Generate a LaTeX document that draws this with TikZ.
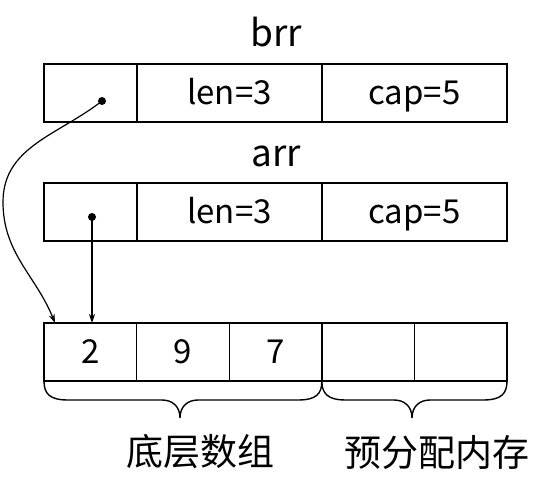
\documentclass[tikz,border=0pt]{standalone}
\usepackage{fontspec}
\setmainfont{Noto Sans CJK SC}
\usetikzlibrary{arrows.meta}
\begin{document}
\begin{tikzpicture}[x=1pt,y=1pt,
  line width=1.4pt,
  cell/.style={draw, inner sep=0pt, outer sep=0pt, minimum height=58pt,
     font=\fontsize{33}{36}\selectfont, text height=24pt, text depth=0pt},
  small/.style={cell, minimum width=93pt},
  wide/.style={cell, minimum width=185pt},
  slot/.style={cell, minimum width=92.6pt},
  title/.style={font=\fontsize{37}{40}\selectfont, anchor=base},
  lab/.style={font=\fontsize{37}{40}\selectfont},
  dotmark/.style={fill, circle, inner sep=0pt, minimum size=8pt},
  ptr/.style={-{Stealth[length=9pt,width=6pt]}, line width=1.2pt},
  bracepath/.style={line width=1.4pt}
]
\useasboundingbox (0,0) rectangle (553,500);

% brr
\node[title] (tb) at (276,453) {brr};
\node[small] (b1) at (90.5,407) {};
\node[wide]  (b2) at (229.5,407) {len=3};
\node[wide]  (b3) at (414.5,407) {cap=5};

% arr
\node[title] (ta) at (276,333) {arr};
\node[small] (a1) at (90.5,288) {};
\node[wide]  (a2) at (229.5,288) {len=3};
\node[wide]  (a3) at (414.5,288) {cap=5};

% underlying array
\node[slot] (s1) at (90.3,148) {2};
\node[slot] (s2) at (182.9,148) {9};
\node[slot] (s3) at (275.5,148) {7};
\node[slot] (s4) at (368.1,148) {};
\node[slot] (s5) at (460.7,148) {};

% pointers
\node[dotmark] (pb) at (102,399) {};
\node[dotmark] (pa) at (92,283) {};
\coordinate (lft) at (3,298);
\coordinate (eb) at (55,177);
\draw[ptr] (pb.center) to[out=218,in=90] (lft) to[out=-90,in=112] (eb);
\draw[ptr] (pa.center) -- (pa.center |- s1.north);

% braces
\coordinate (L1) at (s1.south west);
\coordinate (R1) at (s3.south east);
\coordinate (R2) at (s5.south east);
\draw[bracepath] (L1) .. controls (44,106) and (50,100) .. (68,100)
   -- (162,100) .. controls (172,100) and (180,94) .. (180,82)
   .. controls (180,94) and (188,100) .. (198,100)
   -- (298,100) .. controls (316,100) and (322,106) .. (R1);
\draw[bracepath] (R1) .. controls (322,106) and (328,100) .. (346,100)
   -- (394,100) .. controls (404,100) and (412,94) .. (412,82)
   .. controls (412,94) and (420,100) .. (430,100)
   -- (483,100) .. controls (501,100) and (507,106) .. (R2);

% labels
\node[lab] (l1) at (200,48) {底层数组};
\node[lab] (l2) at (437,48) {预分配内存};
\end{tikzpicture}
\end{document}
